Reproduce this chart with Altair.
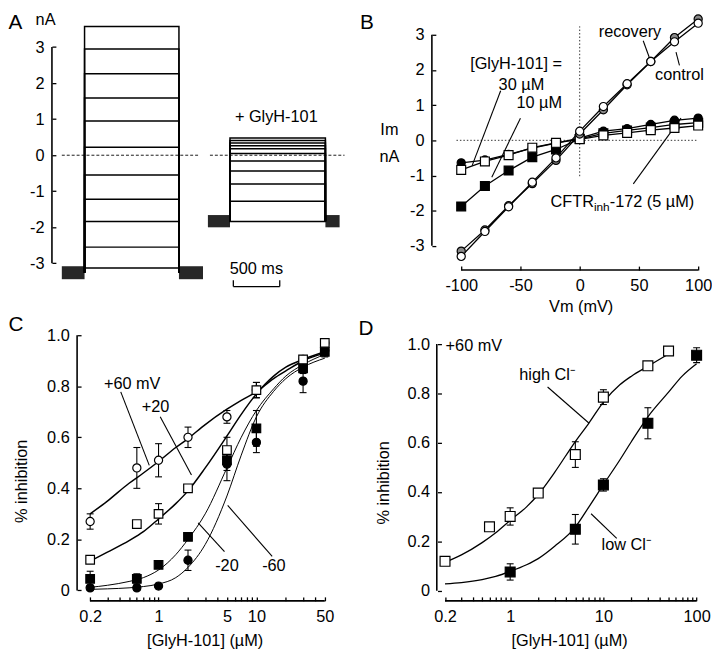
import altair as alt
import pandas as pd

FONT = "Liberation Sans"
FS = 16.5
AXC = "black"
AXW = 1.6

# ===================== Panel A : current traces =====================
A_ctrl_levels = [3.57, 2.95, 2.26, 1.59, 0.95, 0.22, -0.55, -1.22, -1.84, -2.55, -3.13]
A_ctrl_hold = -3.26
A_ctrl_step = [245, 1262]
A_glyh_levels = [0.48, 0.41, 0.34, 0.26, 0.18, 0.05, -0.16, -0.44, -0.80, -1.28, -1.84]
A_glyh_hold = -1.83
A_glyh_step = [1812, 2840]
A_noise_t0 = [0, 1262, 1574, 2840]
A_noise_t1 = [245, 1521, 1812, 2993]
A_noise_hi = [-3.08, -3.08, -1.66, -1.66]
A_noise_lo = [-3.44, -3.44, -2.00, -2.00]
A_zero_t0 = [0, 1596]
A_zero_t1 = [1468, 3046]
A_bar_t = [1848, 2348]
A_bar_y = [-3.644, -3.468]
A_yticks = [-3, -2, -1, 0, 1, 2, 3]
A_text = ["+ GlyH-101", "500 ms", "nA"]
A_text_t = [2311, 2096, -175]
A_text_y = [1.05, -3.167, 3.745]

# ===================== Panel B : I-V =====================
B_vm = [-100, -80, -60, -40, -20, 0, 20, 40, 60, 80, 100]
B_control = [-3.30, -2.59, -1.89, -1.19, -0.50, 0.26, 0.96, 1.61, 2.24, 2.80, 3.33]
B_recovery = [-3.15, -2.55, -1.86, -1.23, -0.57, 0.18, 0.87, 1.58, 2.24, 2.92, 3.45]
B_glyh30 = [-0.64, -0.56, -0.40, -0.22, -0.08, 0.06, 0.26, 0.33, 0.45, 0.57, 0.63]
B_glyh10 = [-1.88, -1.30, -0.86, -0.48, -0.26, 0.04, 0.20, 0.28, 0.36, 0.45, 0.50]
B_cftr = [-0.84, -0.60, -0.42, -0.21, -0.07, 0.03, 0.14, 0.21, 0.29, 0.35, 0.42]
B_xticks = [-100, -50, 0, 50, 100]
B_yticks = [-3, -2, -1, 0, 1, 2, 3]
B_text = ["[GlyH-101] =", "30 µM", "10 µM", "recovery", "control", "Im", "nA"]
B_text_x = [-53.7, -49.2, -34.2, 42.5, 84.2, -160.6, -160.6]
B_text_y = [2.18, 1.57, 1.055, 3.07, 1.85, 0.30, -0.49]
B_lead_x = [-66.7, -50.0, 53.6, 81.3, 45.25]
B_lead_y = [1.41, 0.63, 2.83, 2.51, -1.24]
B_lead_x2 = [-90.8, -74.2, 58.6, 84.2, 85.5]
B_lead_y2 = [-0.72, -1.05, 2.37, 2.13, 0.63]
B_cftr_anchor = [12, -1.75]

# ===================== Panel C =====================
C_conc = [0.2, 0.6, 1, 2, 5, 10, 30, 50]
C_p60 = [0.27, 0.48, 0.51, 0.60, 0.68, 0.785, 0.905, 0.97]
C_p60_err = [0.03, 0.08, 0.065, 0.04, 0.025, 0.03, 0.01, 0.01]
C_p20 = [0.12, 0.26, 0.30, 0.40, 0.55, 0.785, 0.905, 0.97]
C_p20_err = [0.01, 0.01, 0.04, 0.01, 0.05, 0.03, 0.01, 0.01]
C_m20 = [0.045, 0.045, 0.10, 0.21, 0.51, 0.635, 0.87, 0.935]
C_m20_err = [0.03, 0.02, 0.01, 0.01, 0.04, 0.07, 0.02, 0.02]
C_m60 = [0.01, 0.01, 0.017, 0.118, 0.495, 0.58, 0.82, 0.94]
C_m60_err = [0.01, 0.01, 0.01, 0.04, 0.065, 0.04, 0.045, 0.02]
C_fit_x = [0.2, 0.3, 0.5, 0.7, 1, 1.5, 2, 3, 5, 7, 10, 15, 20, 30, 50]
C_fit_p60 = [0.30, 0.35, 0.42, 0.46, 0.505, 0.56, 0.595, 0.65, 0.71, 0.745, 0.778, 0.83, 0.86, 0.90, 0.93]
C_fit_p20 = [0.115, 0.15, 0.195, 0.23, 0.28, 0.34, 0.39, 0.48, 0.605, 0.69, 0.77, 0.84, 0.875, 0.905, 0.935]
C_fit_m20 = [0.012, 0.02, 0.035, 0.05, 0.08, 0.14, 0.20, 0.30, 0.48, 0.60, 0.705, 0.79, 0.84, 0.885, 0.925]
C_fit_m60 = [0.004, 0.006, 0.01, 0.015, 0.025, 0.05, 0.09, 0.18, 0.37, 0.53, 0.68, 0.78, 0.83, 0.875, 0.91]
C_xticks = [0.2, 0.3, 0.4, 0.5, 0.6, 0.7, 0.8, 0.9, 1, 2, 3, 4, 5, 6, 7, 8, 9, 10, 20, 30, 40, 50]
C_text = ["+60 mV", "+20", "-20", "-60"]
C_text_x = [0.538, 0.93, 5.0, 15.1]
C_text_y = [0.81, 0.717, 0.094, 0.094]
C_lead_x = [0.411, 1.04, 2.54, 5.09]
C_lead_y = [0.778, 0.681, 0.265, 0.333]
C_lead_x2 = [0.804, 2.17, 4.72, 14.5]
C_lead_y2 = [0.49, 0.452, 0.152, 0.133]

# ===================== Panel D =====================
D_high_x = [0.2, 0.6, 1, 2, 5, 10, 30, 50]
D_high = [0.119, 0.259, 0.301, 0.396, 0.552, 0.785, 0.912, 0.972]
D_high_err = [0.01, 0.01, 0.035, 0.01, 0.052, 0.03, 0.01, 0.01]
D_low_x = [1, 5, 10, 30, 100]
D_low = [0.076, 0.249, 0.429, 0.679, 0.955]
D_low_err = [0.033, 0.06, 0.025, 0.063, 0.03]
D_fit_high_x = [0.2, 0.3, 0.5, 0.7, 1, 1.5, 2, 3, 5, 7, 10, 15, 20, 30, 50]
D_fit_high = [0.115, 0.145, 0.195, 0.235, 0.285, 0.34, 0.39, 0.48, 0.605, 0.68, 0.765, 0.835, 0.87, 0.91, 0.96]
D_fit_low_x = [0.2, 0.3, 0.5, 0.7, 1, 1.5, 2, 3, 5, 7, 10, 15, 20, 30, 50, 70, 100]
D_fit_low = [0.028, 0.033, 0.045, 0.058, 0.078, 0.105, 0.13, 0.18, 0.258, 0.34, 0.43, 0.53, 0.605, 0.705, 0.805, 0.87, 0.92]
D_xticks = [0.2, 0.3, 0.4, 0.5, 0.6, 0.7, 0.8, 0.9, 1, 2, 3, 4, 5, 6, 7, 8, 9, 10,
            20, 30, 40, 50, 60, 70, 80, 90, 100]
D_text = ["high Cl⁻", "low Cl⁻"]
D_text_x = [2.52, 17.8]
D_text_y = [0.873, 0.185]
D_lead_x = [2.52, 7.38]
D_lead_y = [0.826, 0.312]
D_lead_x2 = [6.98, 13.9]
D_lead_y2 = [0.68, 0.212]
D_note = ["+60 mV"]
D_note_x = [0.203]
D_note_y = [0.993]

FRAC_TICKS = [0, 0.2, 0.4, 0.6, 0.8, 1.0]


def text_layer(df, X, Y, **kw):
    props = dict(font=FONT, fontSize=FS, color="black")
    props.update(kw)
    return alt.Chart(df).mark_text(**props).encode(x=X("x"), y=Y("y"), text="label:N")


def letter(ch, px, py):
    return alt.Chart(pd.DataFrame({"label": [ch]})).mark_text(
        font=FONT, fontSize=21, align="left", baseline="top", color="black"
    ).encode(x=alt.value(px), y=alt.value(py), text="label:N")


def rules(df, X, Y, **kw):
    props = dict(color="black", strokeWidth=1.1)
    props.update(kw)
    enc = dict(x=X("x"), y=Y("y"))
    if "x2" in df.columns:
        enc["x2"] = alt.X2("x2:Q")
    if "y2" in df.columns:
        enc["y2"] = alt.Y2("y2:Q")
    return alt.Chart(df).mark_rule(**props).encode(**enc)


def points(df, X, Y, shape, fill, size):
    return alt.Chart(df).mark_point(
        shape=shape, filled=True, fill=fill, stroke="black", strokeWidth=1.2,
        size=size, opacity=1, fillOpacity=1
    ).encode(x=X("x"), y=Y("y"))


def errbars(xs, ys, es, X, Y):
    bar = pd.DataFrame({"x": xs, "y": [y - e for y, e in zip(ys, es)],
                        "y2": [y + e for y, e in zip(ys, es)]})
    caps = pd.DataFrame({"x": list(xs) + list(xs),
                         "y": [y - e for y, e in zip(ys, es)] + [y + e for y, e in zip(ys, es)]})
    r = rules(bar, X, Y, strokeWidth=1.1)
    t = alt.Chart(caps).mark_tick(orient="horizontal", size=7, thickness=1.1,
                                  color="black", opacity=1).encode(x=X("x"), y=Y("y"))
    return [r, t]


# ============================== Panel A ==============================
A_xs = alt.Scale(domain=[207.4, 4081.9], nice=False, zero=False)
A_ys = alt.Scale(domain=[-3.077, 3.342], nice=False, zero=False)
A_yaxis = alt.Axis(values=A_yticks, offset=25.5, labelExpr="'' + datum.value", title=None)


def AX(f):
    return alt.X(f"{f}:Q", scale=A_xs, axis=None)


def AY(f):
    return alt.Y(f"{f}:Q", scale=A_ys, axis=A_yaxis)


rows = []
for tag, levels, hold, (ton, toff) in [("c", A_ctrl_levels, A_ctrl_hold, A_ctrl_step),
                                        ("g", A_glyh_levels, A_glyh_hold, A_glyh_step)]:
    for i, lv in enumerate(levels):
        for k, (t, v) in enumerate([(ton, hold), (ton, lv), (toff, lv), (toff, hold)]):
            rows.append({"sweep": f"{tag}{i}", "k": k, "x": t, "y": v})
A_traces = pd.DataFrame(rows)

A_noise = pd.DataFrame({"x": A_noise_t0, "x2": A_noise_t1, "y": A_noise_hi, "y2": A_noise_lo})
A_zero = pd.DataFrame({"x": A_zero_t0, "x2": A_zero_t1, "y": [0] * len(A_zero_t0)})
A_axisline = pd.DataFrame({"x": [-106.4], "y": [float(A_yticks[0])], "y2": [float(A_yticks[-1])]})
A_barh = pd.DataFrame({"x": [A_bar_t[0]], "x2": [A_bar_t[1]], "y": [A_bar_y[0]]})
A_barv = pd.DataFrame({"x": A_bar_t, "y": [A_bar_y[0]] * 2, "y2": [A_bar_y[1]] * 2})
A_txt = pd.DataFrame({"label": A_text, "x": A_text_t, "y": A_text_y})

panelA = alt.layer(
    alt.Chart(A_noise).mark_rect(color="#151515", opacity=0.92).encode(
        x=AX("x"), x2=alt.X2("x2:Q"), y=AY("y"), y2=alt.Y2("y2:Q")),
    rules(A_zero, AX, AY, strokeDash=[3, 2], strokeWidth=0.9),
    alt.Chart(A_traces).mark_line(color="black", strokeWidth=1.5).encode(
        x=AX("x"), y=AY("y"), detail="sweep:N", order=alt.Order("k:Q")),
    rules(A_axisline, AX, AY, strokeWidth=AXW, color=AXC),
    rules(A_barh, AX, AY, strokeWidth=1.3),
    rules(A_barv, AX, AY, strokeWidth=1.3),
    text_layer(A_txt, AX, AY),
    letter("A", -73.5, -22.7),
).properties(width=364.2, height=234.3)

# ============================== Panel B ==============================
B_xs = alt.Scale(domain=[-116.67, 100.25], nice=False, zero=False)
B_ys = alt.Scale(domain=[-3.576, 3.0], nice=False, zero=False)
B_xaxis = alt.Axis(values=B_xticks, labelExpr="'' + datum.value", title="Vm (mV)",
                   titleX=141, titleY=41, titleAlign="center", titleBaseline="middle")
B_yaxis = alt.Axis(values=B_yticks, offset=5.7, labelExpr="'' + datum.value", title=None)


def BX(f):
    return alt.X(f"{f}:Q", scale=B_xs, axis=B_xaxis)


def BY(f):
    return alt.Y(f"{f}:Q", scale=B_ys, axis=B_yaxis)


B_series = {"glyh10": B_glyh10, "glyh30": B_glyh30, "cftr": B_cftr,
            "recovery": B_recovery, "control": B_control}
B_long = pd.concat([pd.DataFrame({"s": k, "x": B_vm, "y": v}) for k, v in B_series.items()])


def Bdf(vals):
    return pd.DataFrame({"x": B_vm, "y": vals})


B_dot_v = pd.DataFrame({"x": [0], "y": [-1.02], "y2": [3.24]})
B_dot_h = pd.DataFrame({"x": [-104], "x2": [100], "y": [0]})
B_yline = pd.DataFrame({"x": [-124.75], "y": [float(B_yticks[0])], "y2": [float(B_yticks[-1])]})
B_xline = pd.DataFrame({"x": [float(B_xticks[0])], "x2": [float(B_xticks[-1])], "y": [-3.688]})
B_txt = pd.DataFrame({"label": B_text, "x": B_text_x, "y": B_text_y})
B_lead = pd.DataFrame({"x": B_lead_x, "y": B_lead_y, "x2": B_lead_x2, "y2": B_lead_y2})
B_c1 = pd.DataFrame({"label": ["CFTR"], "x": [B_cftr_anchor[0]], "y": [B_cftr_anchor[1]]})
B_c2 = pd.DataFrame({"label": ["inh"], "x": [B_cftr_anchor[0]], "y": [B_cftr_anchor[1]]})
B_c3 = pd.DataFrame({"label": ["-172 (5 µM)"], "x": [B_cftr_anchor[0]], "y": [B_cftr_anchor[1]]})

panelB = alt.layer(
    rules(B_dot_v, BX, BY, strokeDash=[1.5, 2], strokeWidth=0.8),
    rules(B_dot_h, BX, BY, strokeDash=[1.5, 2], strokeWidth=0.8),
    alt.Chart(B_long).mark_line(color="black", strokeWidth=1.3).encode(
        x=BX("x"), y=BY("y"), detail="s:N"),
    rules(B_lead, BX, BY, strokeWidth=1.1),
    points(Bdf(B_glyh10), BX, BY, "square", "black", 81),
    points(Bdf(B_glyh30), BX, BY, "circle", "black", 68),
    points(Bdf(B_cftr), BX, BY, "square", "white", 81),
    points(Bdf(B_recovery), BX, BY, "circle", "#8a8a8a", 68),
    points(Bdf(B_control), BX, BY, "circle", "white", 68),
    rules(B_yline, BX, BY, strokeWidth=AXW, color=AXC),
    rules(B_xline, BX, BY, strokeWidth=AXW, color=AXC),
    text_layer(B_txt, BX, BY),
    text_layer(B_c1, BX, BY, align="right"),
    text_layer(B_c2, BX, BY, align="left", fontSize=12, dy=5),
    text_layer(B_c3, BX, BY, align="left", dx=16),
    letter("B", -82.4, -22.7),
).properties(width=260.3, height=234.3)

# ============================== Panel C ==============================
C_xs = alt.Scale(type="log", domain=[0.1615, 764.3], nice=False)
C_ys = alt.Scale(domain=[-0.0255, 1.0], nice=False, zero=False)
C_xaxis = alt.Axis(values=C_xticks,
                   labelExpr="indexof([0.2, 1, 5, 10, 50], datum.value) >= 0 ? format(datum.value, '~g') : ''",
                   title="[GlyH-101] (µM)", titleX=125.2, titleY=44,
                   titleAlign="center", titleBaseline="middle")
C_yaxis = alt.Axis(values=FRAC_TICKS,
                   labelExpr="datum.value == 0 ? '0' : format(datum.value, '.1f')",
                   title="% inhibition", titleX=-59.8, titleY=147.4, titleAngle=270,
                   titleAlign="center", titleBaseline="middle")


def CX(f):
    return alt.X(f"{f}:Q", scale=C_xs, axis=C_xaxis)


def CY(f):
    return alt.Y(f"{f}:Q", scale=C_ys, axis=C_yaxis)


C_fits_thick = pd.concat([pd.DataFrame({"s": "p60", "x": C_fit_x, "y": C_fit_p60}),
                          pd.DataFrame({"s": "p20", "x": C_fit_x, "y": C_fit_p20})])
C_fits_thin = pd.concat([pd.DataFrame({"s": "m20", "x": C_fit_x, "y": C_fit_m20}),
                         pd.DataFrame({"s": "m60", "x": C_fit_x, "y": C_fit_m60})])
C_yline = pd.DataFrame({"x": [0.1471], "y": [0.0], "y2": [1.0]})
C_xline = pd.DataFrame({"x": [0.2], "x2": [50.0], "y": [-0.041]})
C_txt = pd.DataFrame({"label": C_text, "x": C_text_x, "y": C_text_y})
C_lead = pd.DataFrame({"x": C_lead_x, "y": C_lead_y, "x2": C_lead_x2, "y2": C_lead_y2})


def Cdf(vals):
    return pd.DataFrame({"x": C_conc, "y": vals})


panelC = alt.layer(
    alt.Chart(C_fits_thick).mark_line(color="black", strokeWidth=1.5, interpolate="monotone").encode(
        x=CX("x"), y=CY("y"), detail="s:N"),
    alt.Chart(C_fits_thin).mark_line(color="black", strokeWidth=1.0, interpolate="monotone").encode(
        x=CX("x"), y=CY("y"), detail="s:N"),
    *errbars(C_conc, C_m60, C_m60_err, CX, CY),
    *errbars(C_conc, C_m20, C_m20_err, CX, CY),
    *errbars(C_conc, C_p60, C_p60_err, CX, CY),
    *errbars(C_conc, C_p20, C_p20_err, CX, CY),
    points(Cdf(C_m60), CX, CY, "circle", "black", 68),
    points(Cdf(C_m20), CX, CY, "square", "black", 76),
    points(Cdf(C_p60), CX, CY, "circle", "white", 68),
    points(Cdf(C_p20), CX, CY, "square", "white", 76),
    rules(C_lead, CX, CY, strokeWidth=1.1),
    rules(C_yline, CX, CY, strokeWidth=AXW, color=AXC),
    rules(C_xline, CX, CY, strokeWidth=AXW, color=AXC),
    text_layer(C_txt, CX, CY),
    letter("C", -73.5, -21.3),
).properties(width=364.2, height=265)

# ============================== Panel D ==============================
D_xs = alt.Scale(type="log", domain=[0.1832, 104.7], nice=False)
D_ys = alt.Scale(domain=[-0.0252, 1.036], nice=False, zero=False)
D_xaxis = alt.Axis(values=D_xticks,
                   labelExpr="indexof([0.2, 1, 10, 100], datum.value) >= 0 ? format(datum.value, '~g') : ''",
                   title="[GlyH-101] (µM)", titleX=129.3, titleY=44,
                   titleAlign="center", titleBaseline="middle")
D_yaxis = alt.Axis(values=FRAC_TICKS,
                   labelExpr="datum.value == 0 ? '0' : format(datum.value, '.1f')",
                   title="% inhibition", titleX=-59, titleY=149, titleAngle=270,
                   titleAlign="center", titleBaseline="middle")


def DX(f):
    return alt.X(f"{f}:Q", scale=D_xs, axis=D_xaxis)


def DY(f):
    return alt.Y(f"{f}:Q", scale=D_ys, axis=D_yaxis)


D_fits = pd.concat([pd.DataFrame({"s": "high", "x": D_fit_high_x, "y": D_fit_high}),
                    pd.DataFrame({"s": "low", "x": D_fit_low_x, "y": D_fit_low})])
D_yline = pd.DataFrame({"x": [0.1633], "y": [0.0], "y2": [1.0]})
D_xline = pd.DataFrame({"x": [0.2], "x2": [100.0], "y": [-0.0412]})
D_txt = pd.DataFrame({"label": D_text, "x": D_text_x, "y": D_text_y})
D_note_df = pd.DataFrame({"label": D_note, "x": D_note_x, "y": D_note_y})
D_lead = pd.DataFrame({"x": D_lead_x, "y": D_lead_y, "x2": D_lead_x2, "y2": D_lead_y2})

panelD = alt.layer(
    alt.Chart(D_fits).mark_line(color="black", strokeWidth=1.3, interpolate="monotone").encode(
        x=DX("x"), y=DY("y"), detail="s:N"),
    *errbars(D_high_x, D_high, D_high_err, DX, DY),
    *errbars(D_low_x, D_low, D_low_err, DX, DY),
    points(pd.DataFrame({"x": D_high_x, "y": D_high}), DX, DY, "square", "white", 100),
    points(pd.DataFrame({"x": D_low_x, "y": D_low}), DX, DY, "square", "black", 100),
    rules(D_lead, DX, DY, strokeWidth=1.1),
    rules(D_yline, DX, DY, strokeWidth=AXW, color=AXC),
    rules(D_xline, DX, DY, strokeWidth=AXW, color=AXC),
    text_layer(D_txt, DX, DY),
    text_layer(D_note_df, DX, DY, align="left"),
    letter("D", -84, -17.6),
).properties(width=260.3, height=265)

chart = alt.concat(
    panelA, panelB, panelC, panelD,
    columns=2, spacing={"row": 69.3, "column": 0}, bounds="flush", align="each",
).properties(padding=0).configure_view(strokeWidth=0).configure_axis(
    domain=False, grid=False, ticks=True, tickColor="black", tickWidth=1.3, tickSize=4,
    labelColor="black", labelFont=FONT, labelFontSize=FS, labelPadding=8,
    labelFlush=False, labelOverlap=False,
    titleFont=FONT, titleFontSize=FS, titleFontWeight="normal", titleColor="black",
)

chart.save("out.html", embed_options={"renderer": "svg", "actions": False})
